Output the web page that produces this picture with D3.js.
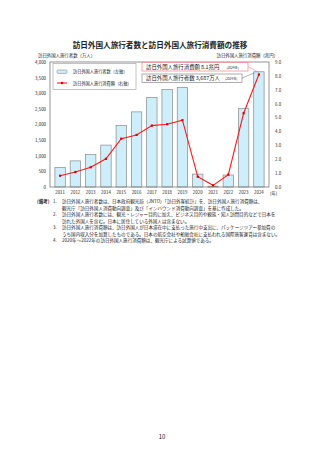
<!DOCTYPE html>
<html>
<head>
<meta charset="utf-8">
<script src="https://cdn.jsdelivr.net/npm/d3@7"></script>
<style>
  body { margin: 0; background: #fff; }
  text { font-family: "Noto Sans CJK JP", "Noto Sans", sans-serif; fill: #222; }
</style>
</head>
<body>
<script>
var width = 320,
    height = 453;

var years = ["2011","2012","2013","2014","2015","2016","2017","2018","2019","2020","2021","2022","2023","2024"];
var visitors = [622, 836, 1036, 1341, 1974, 2404, 2869, 3119, 3188, 412, 25, 383, 2507, 3687];  // 万人
var spending = [0.81, 1.08, 1.42, 2.03, 3.48, 3.75, 4.42, 4.52, 4.81, 0.74, 0.12, 0.89, 5.31, 8.1]; // 兆円
var leftTicks = [0, 500, 1000, 1500, 2000, 2500, 3000, 3500, 4000];
var rightTicks = [0, 1, 2, 3, 4, 5, 6, 7, 8, 9];

var notes = [
  ["1.", "訪日外国人旅行者数は、日本政府観光局（JNTO）「訪日外客統計」を、訪日外国人旅行消費額は、"],
  ["",   "観光庁「訪日外国人消費動向調査」及び「インバウンド消費動向調査」を基に作成した。"],
  ["2.", "訪日外国人旅行者数には、観光・レジャー目的に加え、ビジネス目的や親族・知人訪問目的などで日本を"],
  ["",   "訪れた外国人を含む。日本に居住している外国人は含まない。"],
  ["3.", "訪日外国人旅行消費額は、訪日外国人が日本滞在中に支払った旅行中支出に、パッケージツアー参加費の"],
  ["",   "うち国内収入分を加算したものである。日本の航空会社や船舶会社に支払われる国際旅客運賃は含まない。"],
  ["4.", "2020年～2022年の訪日外国人旅行消費額は、観光庁による試算値である。"]
];

var plotL = 50, plotR = 269, plotT = 62, plotB = 187;

var svg = d3.select("body").append("svg")
    .attr("width", width)
    .attr("height", height);

var x = d3.scaleBand()
    .domain(years)
    .range([plotL, plotR])
    .padding(0.32);

var yL = d3.scaleLinear()
    .domain([0, 4000])
    .range([plotB, plotT]);

var yR = d3.scaleLinear()
    .domain([0, 9])
    .range([plotB, plotT]);

// title
svg.append("text")
    .attr("x", 160)
    .attr("y", 48)
    .attr("text-anchor", "middle")
    .style("font-size", "7.6px")
    .style("font-weight", "bold")
    .text("訪日外国人旅行者数と訪日外国人旅行消費額の推移");

svg.append("text")
    .attr("x", 38).attr("y", 57)
    .style("font-size", "4.4px")
    .text("訪日外国人旅行者数（万人）");

svg.append("text")
    .attr("x", 278).attr("y", 57)
    .attr("text-anchor", "end")
    .style("font-size", "4.4px")
    .text("訪日外国人旅行消費額（兆円）");

// bars
svg.selectAll("rect.bar")
    .data(years)
    .enter()
    .append("rect")
    .attr("class", "bar")
    .attr("x", function(d){ return x(d); })
    .attr("y", function(d, i){ return yL(visitors[i]); })
    .attr("width", x.bandwidth())
    .attr("height", function(d, i){ return plotB - yL(visitors[i]); })
    .attr("fill", "#cdeefa")
    .attr("stroke", "#8a8a8a")
    .attr("stroke-width", 0.7);

// frame
svg.append("rect")
    .attr("x", plotL).attr("y", plotT)
    .attr("width", plotR - plotL).attr("height", plotB - plotT)
    .attr("fill", "none")
    .attr("stroke", "#7a7a7a")
    .attr("stroke-width", 0.8);

// axes
var axL = svg.append("g")
    .attr("transform", "translate(" + plotL + ",0)")
    .call(d3.axisLeft(yL).tickValues(leftTicks).tickFormat(d3.format(",")).tickSize(0).tickPadding(4));
var axR = svg.append("g")
    .attr("transform", "translate(" + plotR + ",0)")
    .call(d3.axisRight(yR).tickValues(rightTicks).tickFormat(d3.format(".1f")).tickSize(0).tickPadding(6));
var axB = svg.append("g")
    .attr("transform", "translate(0," + plotB + ")")
    .call(d3.axisBottom(x).tickSize(0).tickPadding(4));

[axL, axR, axB].forEach(function(a){
  a.select(".domain").remove();
  a.selectAll("text")
    .style("font-family", "'Noto Sans CJK JP', sans-serif")
    .style("font-size", "4.4px")
    .attr("fill", "#222");
});

svg.append("text")
    .attr("x", 270).attr("y", 195)
    .style("font-size", "4.4px")
    .text("(年)");

// spending line
var line = d3.line()
    .x(function(d, i){ return x(years[i]) + x.bandwidth() / 2; })
    .y(function(d){ return yR(d); });

svg.append("path")
    .datum(spending)
    .attr("d", line)
    .attr("fill", "none")
    .attr("stroke", "#ff1a1a")
    .attr("stroke-width", 1.1);

svg.selectAll("rect.pt")
    .data(spending)
    .enter()
    .append("rect")
    .attr("class", "pt")
    .attr("x", function(d, i){ return x(years[i]) + x.bandwidth() / 2 - 1.1; })
    .attr("y", function(d){ return yR(d) - 1.1; })
    .attr("width", 2.2).attr("height", 2.2)
    .attr("fill", "#e00000");

// legend
var lg = svg.append("g");
lg.append("rect")
    .attr("x", 53).attr("y", 63.5).attr("width", 83).attr("height", 26)
    .attr("fill", "#fff").attr("stroke", "#999").attr("stroke-width", 0.6);
lg.append("rect")
    .attr("x", 57).attr("y", 70).attr("width", 10).attr("height", 3.4).attr("rx", 1)
    .attr("fill", "#cdeefa").attr("stroke", "#8a8a8a").attr("stroke-width", 0.6);
lg.append("text").attr("x", 73).attr("y", 73.3).style("font-size", "4.2px")
    .text("訪日外国人旅行者数（左軸）");
lg.append("line")
    .attr("x1", 57).attr("x2", 67).attr("y1", 83).attr("y2", 83)
    .attr("stroke", "#ff1a1a").attr("stroke-width", 1.1);
lg.append("rect")
    .attr("x", 60.9).attr("y", 81.9).attr("width", 2.2).attr("height", 2.2)
    .attr("fill", "#e00000");
lg.append("text").attr("x", 73).attr("y", 84.6).style("font-size", "4.2px")
    .text("訪日外国人旅行消費額（右軸）");

// callouts
var last = years.length - 1;
var cx = x(years[last]) + x.bandwidth() / 2;

svg.append("line")
    .attr("x1", 248).attr("y1", 66.5)
    .attr("x2", cx).attr("y2", yR(spending[last]) - 2)
    .attr("stroke", "#f08080").attr("stroke-width", 0.6);
svg.append("line")
    .attr("x1", 242).attr("y1", 78)
    .attr("x2", x(years[last]) + 1).attr("y2", yL(visitors[last]) + 1)
    .attr("stroke", "#666").attr("stroke-width", 0.5);

svg.append("rect")
    .attr("x", 142).attr("y", 62.5).attr("width", 106).attr("height", 8.5)
    .attr("fill", "#fff").attr("stroke", "#f08080").attr("stroke-width", 0.7);
var t1 = svg.append("text").attr("x", 146).attr("y", 68.7).style("font-size", "5.4px");
t1.append("tspan").text("訪日外国人旅行消費額 " + d3.format(".1f")(spending[last]) + "兆円");
t1.append("tspan").attr("dx", 7).style("font-size", "3.2px").text("(" + years[last] + "年)");

svg.append("rect")
    .attr("x", 142).attr("y", 74).attr("width", 100).attr("height", 8.5)
    .attr("fill", "#fff").attr("stroke", "#777").attr("stroke-width", 0.6);
var t2 = svg.append("text").attr("x", 146).attr("y", 80.2).style("font-size", "5.4px");
t2.append("tspan").text("訪日外国人旅行者数 " + d3.format(",")(visitors[last]) + "万人");
t2.append("tspan").attr("dx", 5).style("font-size", "3.2px").text("(" + years[last] + "年)");

// notes
svg.append("text").attr("x", 37).attr("y", 203).style("font-size", "4.5px").style("font-weight", "bold").text("(備考)");
var ng = svg.selectAll("g.note")
    .data(notes)
    .enter()
    .append("g")
    .attr("class", "note");
ng.append("text")
    .attr("x", 53).attr("y", function(d, i){ return 203 + i * 6.5; })
    .style("font-size", "4.55px")
    .text(function(d){ return d[0]; });
ng.append("text")
    .attr("x", 62).attr("y", function(d, i){ return 203 + i * 6.5; })
    .style("font-size", "4.55px")
    .text(function(d){ return d[1]; });

svg.append("text")
    .attr("x", 162).attr("y", 439)
    .attr("text-anchor", "middle")
    .style("font-size", "6px")
    .text("10");
</script>
</body>
</html>
